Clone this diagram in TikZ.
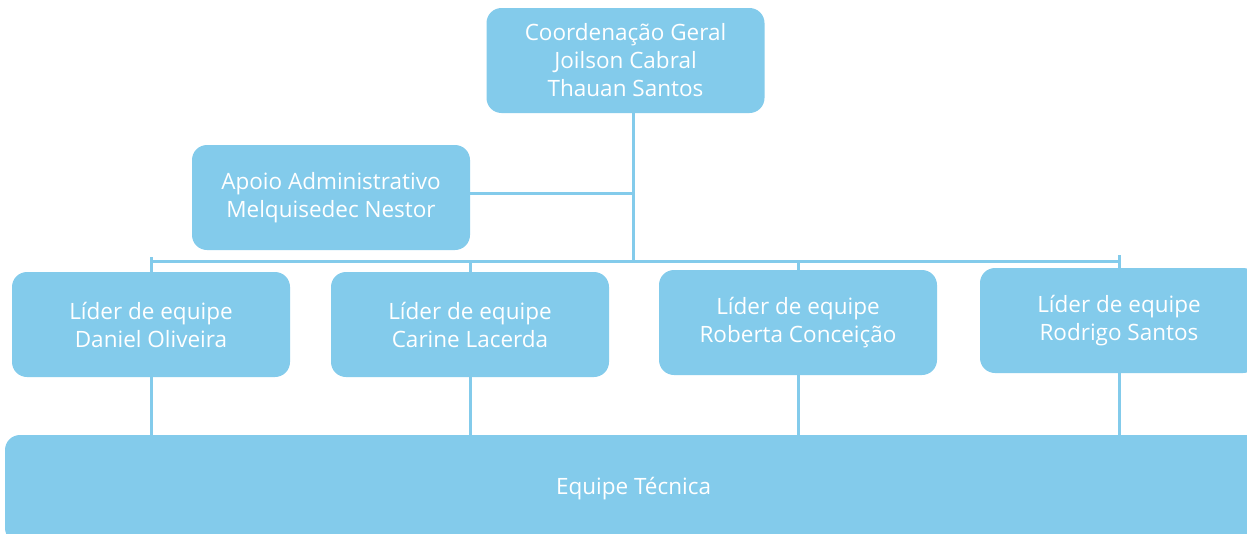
\documentclass[tikz,border=0pt]{standalone}
\usepackage{fontspec}
\setmainfont{Open Sans}
\definecolor{orgblue}{RGB}{131,203,235}
\begin{document}
\begin{tikzpicture}[x=1pt,y=-1pt,
	every node/.style={rounded corners=15pt,fill=orgblue,text=white,align=center,inner sep=0pt,
		minimum width=278pt,minimum height=105pt,font=\fontsize{22.5}{28}\selectfont},
	link/.style={draw=orgblue,line width=3pt}]
	\useasboundingbox (0,0) rectangle (1247,533);
	\clip (0,0) rectangle (1247,533);
	\node(Coord) at (625.5,60.5) {Coordenação Geral\\Joilson Cabral\\Thauan Santos};
	\node(Apoio) at (331,197.5) {Apoio Administrativo\\Melquisedec Nestor};
	\node(Lider1) at (151,324.5) {Líder de equipe\\Daniel Oliveira};
	\node(Lider2) at (470,324.5) {Líder de equipe\\Carine Lacerda};
	\node(Lider3) at (798,322.5) {Líder de equipe\\Roberta Conceição};
	\node(Lider4) at (1119,320.5) {Líder de equipe\\Rodrigo Santos};
	\node(Equipe) at (633.5,489) [minimum width=1257pt,minimum height=108pt] {Equipe Técnica};
	\coordinate (Hub) at (633,261);
	% ligacoes
	\draw[link] (Coord.south -| Hub) -- (Hub);
	\draw[link] (Apoio.east) ++(0,-4) -- ++(163,0);
	\draw[link] (Lider1.north |- Hub) -- (Lider4.north |- Hub);
	\draw[link] (Lider1.north |- Hub) ++(0,-4) -- (Lider1.north);
	\draw[link] (Lider4.north |- Hub) ++(0,-6) -- (Lider4.north);
	\foreach \i in {2,3} \draw[link] (Lider\i.north |- Hub) -- (Lider\i.north);
	\foreach \i in {1,...,4} \draw[link] (Lider\i.south) -- (Lider\i.south |- Equipe.north);
\end{tikzpicture}
\end{document}
